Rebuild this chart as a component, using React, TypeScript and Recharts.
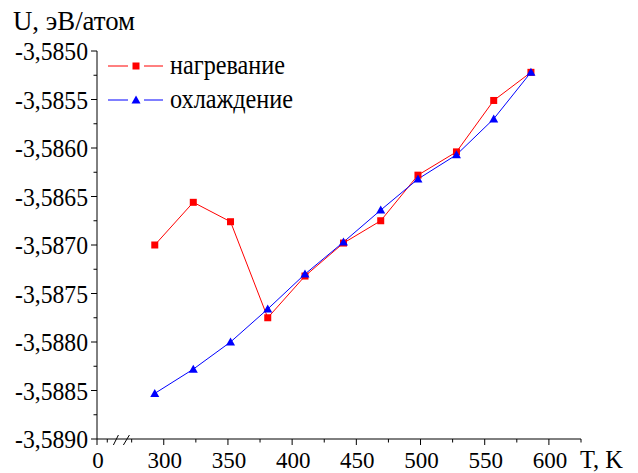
import { LineChart, Line, XAxis, YAxis } from "recharts";

// temperatures, K
const temps = [293, 323, 352, 381, 410, 440, 469, 498, 528, 557, 586];
// U, eV/atom
const heating = [
  -3.587, -3.58656, -3.58676, -3.58775, -3.58732, -3.58698, -3.58675,
  -3.58628, -3.58604, -3.58551, -3.58522,
];
const cooling = [
  -3.58853, -3.58828, -3.588, -3.58766, -3.5873, -3.58697, -3.58664,
  -3.58632, -3.58607, -3.5857, -3.58522,
];

const xMajor = [248, 300, 350, 400, 450, 500, 550, 600];
const xLabels = ["0", "300", "350", "400", "450", "500", "550", "600"];
const xMinor = [256, 275, 325, 375, 425, 475, 525, 575, 625];
const xBreak = 266;

const yMajor = [
  -3.585, -3.5855, -3.586, -3.5865, -3.587, -3.5875, -3.588, -3.5885, -3.589,
];
const yMinor = [
  -3.58525, -3.58575, -3.58625, -3.58675, -3.58725, -3.58775, -3.58825,
  -3.58875,
];

const FONT =
  '"Liberation Serif", "DejaVu Serif", "Noto Serif", Tinos, "Times New Roman", serif';

const rows = temps.map((t, i) => ({ t, heat: heating[i], cool: cooling[i] }));

const fmtY = (v: number) => v.toFixed(4).replace(".", ",");

const XTick = (p: any) => {
  const { x, y, payload } = p;
  const v = payload.value;
  if (Math.abs(v - xBreak) < 0.01) {
    return (
      <g stroke="#000" strokeWidth={1}>
        <line x1={x - 6.7} y1={y + 6} x2={x - 1.7} y2={y - 4} />
        <line x1={x + 3.3} y1={y + 6} x2={x + 9.3} y2={y - 4} />
      </g>
    );
  }
  const mi = xMajor.indexOf(v);
  if (mi >= 0) {
    const lbl = xLabels[mi];
    return (
      <g>
        <line x1={x} y1={y} x2={x} y2={y + 6} stroke="#000" />
        <text
          x={x + 1}
          y={y + 29}
          textAnchor="middle"
          fill="#000"
          style={{ fontFamily: FONT, fontSize: 24 }}
          textLength={lbl.length * 11.5}
          lengthAdjust="spacingAndGlyphs"
        >
          {lbl}
        </text>
      </g>
    );
  }
  return <line x1={x} y1={y} x2={x} y2={y + 3.5} stroke="#000" />;
};

const YTick = (p: any) => {
  const { x, y, payload } = p;
  const v = payload.value;
  const major = yMajor.some((m) => Math.abs(m - v) < 1e-7);
  if (!major) return <line x1={x} y1={y} x2={x - 3.5} y2={y} stroke="#000" />;
  return (
    <g>
      <line x1={x} y1={y} x2={x - 6} y2={y} stroke="#000" />
      <text
        x={x - 82}
        y={y + 9}
        fill="#000"
        style={{ fontFamily: FONT, fontSize: 25 }}
        textLength={73}
        lengthAdjust="spacingAndGlyphs"
      >
        {fmtY(v)}
      </text>
    </g>
  );
};

const Square = (p: any) => {
  const { cx, cy } = p;
  if (cx == null || cy == null) return null;
  return <rect x={cx - 3.5} y={cy - 3.5} width={7} height={7} fill="#ff0000" />;
};

const Triangle = (p: any) => {
  const { cx, cy } = p;
  if (cx == null || cy == null) return null;
  return (
    <path
      d={`M${cx},${cy - 4.5} L${cx + 4.5},${cy + 3.5} L${cx - 4.5},${cy + 3.5} Z`}
      fill="#0000ff"
    />
  );
};

export default function App() {
  return (
    <div
      style={{
        position: "absolute",
        left: 0,
        top: 0,
        width: 638,
        height: 473,
        background: "#fff",
        fontFamily: FONT,
      }}
    >
      <LineChart
        width={638}
        height={473}
        data={rows}
        margin={{ top: 51, right: 57, bottom: 0, left: 0 }}
      >
        <XAxis
          type="number"
          dataKey="t"
          domain={[248, 625]}
          ticks={[...xMajor, ...xMinor, xBreak].sort((a, b) => a - b)}
          interval={0}
          height={34}
          tickSize={0}
          tickMargin={0}
          tickLine={false}
          stroke="#000"
          tick={<XTick />}
          allowDataOverflow
        />
        <YAxis
          type="number"
          domain={[-3.589, -3.585]}
          ticks={[...yMajor, ...yMinor]}
          interval={0}
          width={97}
          tickSize={0}
          tickMargin={0}
          tickLine={false}
          stroke="#000"
          tick={<YTick />}
          allowDataOverflow
        />
        <Line
          type="linear"
          dataKey="heat"
          stroke="#ff0000"
          strokeWidth={1}
          dot={<Square />}
          activeDot={false}
          isAnimationActive={false}
        />
        <Line
          type="linear"
          dataKey="cool"
          stroke="#0000ff"
          strokeWidth={1}
          dot={<Triangle />}
          activeDot={false}
          isAnimationActive={false}
        />
      </LineChart>
      <svg
        width={638}
        height={473}
        style={{
          position: "absolute",
          left: 0,
          top: 0,
          pointerEvents: "none",
          fontFamily: FONT,
        }}
      >
        <text x={13} y={30} fontSize={27} textLength={122} lengthAdjust="spacingAndGlyphs">
          U, эВ/атом
        </text>
        <text x={580} y={468} fontSize={25} textLength={43} lengthAdjust="spacingAndGlyphs">
          T, K
        </text>
        <g>
          <line x1={108} y1={66} x2={128} y2={66} stroke="#ff0000" />
          <line x1={144} y1={66} x2={163} y2={66} stroke="#ff0000" />
          <rect x={132.5} y={62.5} width={7} height={7} fill="#ff0000" />
          <text x={170} y={74} fontSize={28} textLength={115} lengthAdjust="spacingAndGlyphs">
            нагревание
          </text>
        </g>
        <g>
          <line x1={108} y1={100} x2={128} y2={100} stroke="#0000ff" />
          <line x1={144} y1={100} x2={163} y2={100} stroke="#0000ff" />
          <path d="M136,95.5 L140.5,103.5 L131.5,103.5 Z" fill="#0000ff" />
          <text x={170} y={108} fontSize={28} textLength={123} lengthAdjust="spacingAndGlyphs">
            охлаждение
          </text>
        </g>
      </svg>
    </div>
  );
}
